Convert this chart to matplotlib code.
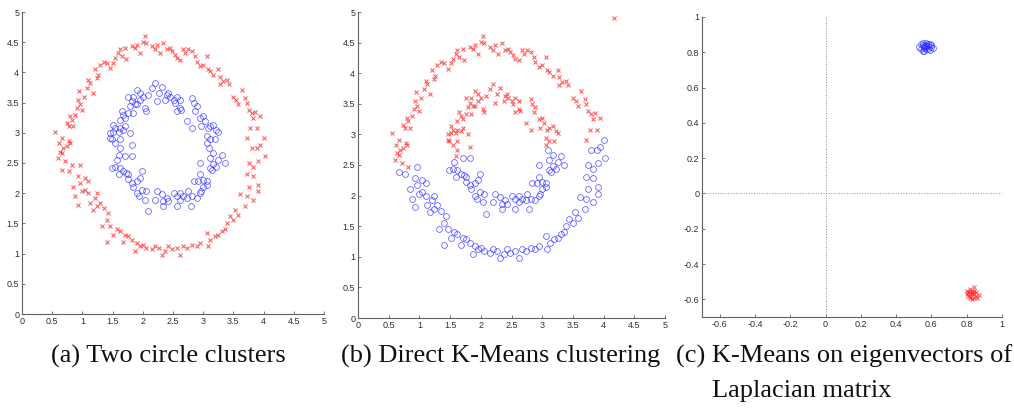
import matplotlib
matplotlib.use("Agg")
import matplotlib.pyplot as plt

# ---------------- data ----------------
# outer ring, part that stays red in (b)
outer_top_x = [0.55,0.62,0.66,0.63,0.68,0.74,0.77,0.79,0.82,0.85,0.88,0.78,0.74,0.79,
               0.91,0.93,0.96,0.99,0.95,1.02,1.08,1.13,1.17,1.10,1.21,1.26,1.24,1.29,1.35,1.40,1.46,
               1.51,1.54,1.59,1.62,1.65,1.72,1.71,1.82,1.87,1.90,1.95,2.01,2.04,2.06,2.15,
               2.20,2.23,2.28,2.34,2.40,2.45,2.48,2.53,2.56,2.62,2.67,2.70,2.75,2.81,2.86,2.89,2.95,3.00,3.06,
               3.08,3.11,3.17,3.25,3.28,3.33,3.39,3.42,3.28,3.50,3.55,3.58,3.64,3.69,3.72,3.75,3.80,3.86,3.83,3.94,
               3.78,3.89,3.72,0.82,0.71,0.60,0.66]
outer_top_y = [3.02,2.83,2.91,2.69,2.75,3.16,3.11,3.27,3.22,3.11,3.30,2.86,2.78,2.83,
               3.41,3.55,3.47,3.38,3.69,3.60,3.74,3.82,3.66,3.88,4.05,3.96,3.91,4.13,4.18,4.16,4.07,
               4.16,4.24,4.32,4.38,4.27,4.22,4.40,4.43,4.40,4.46,4.32,4.51,4.60,4.49,4.43,
               4.38,4.46,4.32,4.49,4.38,4.40,4.35,4.29,4.24,4.21,4.38,4.32,4.38,4.35,4.27,4.18,4.10,4.13,4.27,
               4.05,4.02,3.96,4.05,3.93,3.85,3.88,3.80,3.80,3.60,3.55,3.47,3.71,3.58,3.49,3.38,3.33,3.35,3.25,3.27,
               3.08,3.08,2.91,2.47,2.53,2.58,2.66]
# outer ring, part that turns blue in (b)
outer_bot_x = [3.80,3.89,4.00,3.94,4.02,3.75,3.83,3.91,3.72,3.83,3.91,3.75,3.91,3.61,3.72,3.83,3.69,
               3.53,3.58,3.50,3.44,3.39,3.36,3.31,3.25,3.20,3.12,3.06,3.08,
               2.95,2.89,2.81,2.73,2.67,2.62,2.56,2.48,2.42,2.37,2.31,2.26,2.20,2.15,2.06,2.01,1.95,1.87,1.90,
               1.82,1.76,1.71,1.62,1.57,1.68,1.51,1.40,
               1.46,1.40,1.32,1.43,1.35,1.29,1.24,1.18,1.13,1.21,1.24,1.10,1.04,0.99,0.93,0.88,0.85,0.96,1.04,1.10,0.93,
               0.77,0.96,0.66]
outer_bot_y = [2.75,2.75,2.91,2.80,2.61,2.50,2.44,2.53,2.31,2.28,2.14,2.11,2.03,1.98,1.95,1.89,1.78,
               1.73,1.64,1.56,1.62,1.51,1.40,1.37,1.31,1.29,1.23,1.34,1.12,
               1.18,1.12,1.15,1.09,1.12,0.98,1.09,1.07,1.12,1.04,0.98,1.09,1.12,1.07,1.09,1.15,1.12,1.04,1.18,
               1.23,1.29,1.31,1.37,1.40,1.20,1.31,1.20,
               1.45,1.56,1.45,1.67,1.75,1.84,1.78,1.73,1.84,1.92,2.00,2.00,2.06,2.03,1.81,1.95,2.11,2.17,2.25,2.20,2.28,
               2.36,2.47,2.39]
# inner ring, part that turns red in (b)
inner_top_x = [2.20,2.15,2.31,2.26,2.09,2.01,1.95,1.90,1.84,1.76,1.82,1.87,1.79,1.95,2.04,2.06,
               2.42,2.45,2.37,2.51,2.56,2.62,2.53,2.62,2.56,2.64,2.40,2.23,
               2.81,2.84,2.89,2.86,2.73,2.95,3.00,3.03,2.97,3.08,3.11,3.17,3.22,3.25,2.81,
               3.06,3.11,3.06,3.19,
               1.60,1.82,1.62,1.54,1.62,1.49,1.46,1.46,1.51,1.60,1.54,1.62,1.68,1.51,1.79,1.71,
               1.62,1.68,1.71,1.76,1.65,1.84,1.90]
inner_top_y = [3.82,3.74,3.76,3.66,3.63,3.60,3.66,3.71,3.60,3.60,3.52,3.47,3.44,3.55,3.41,3.36,
               3.66,3.60,3.55,3.55,3.60,3.55,3.49,3.41,3.36,3.38,3.63,3.52,
               3.58,3.49,3.44,3.36,3.19,3.25,3.27,3.19,3.11,3.08,3.11,3.13,3.05,3.02,3.08,
               2.94,2.89,2.83,2.89,
               2.64,2.80,2.75,2.83,2.89,2.89,2.91,3.00,3.02,3.02,3.08,3.08,3.05,3.13,3.00,3.11,
               3.22,3.30,3.25,3.33,3.36,3.33,3.47]
# inner ring, part that stays blue in (b)
inner_bot_x = [3.09,3.17,3.31,3.11,3.25,3.17,3.36,3.22,2.95,3.11,3.14,
               2.95,3.00,3.06,2.92,2.84,3.00,2.95,2.89,2.97,3.06,2.81,2.75,2.73,
               2.62,2.56,2.62,2.51,2.56,2.40,2.34,2.31,2.23,2.20,2.34,2.42,2.79,2.67,
               2.04,2.09,2.06,1.98,1.90,1.93,1.84,1.82,1.90,1.95,1.98,1.76,1.76,1.73,1.68,1.60,1.62,1.54,1.49,
               1.57,1.71,1.82]
inner_bot_y = [2.75,2.67,2.64,2.58,2.55,2.49,2.50,2.44,2.50,2.42,2.39,
               2.31,2.22,2.20,2.20,2.20,2.11,2.00,1.92,2.03,2.14,1.95,2.03,1.92,
               2.00,1.95,1.89,2.00,1.78,1.92,1.87,1.98,2.03,1.89,1.78,1.87,1.78,1.95,
               1.89,1.70,2.03,2.06,2.00,1.95,2.11,2.17,2.20,2.25,2.36,2.23,2.31,2.33,2.36,2.31,2.42,2.44,2.42,
               2.55,2.61,2.61]
# stray red point in (b)
stray_b_x = [4.17]
stray_b_y = [4.91]

# eigenvector embedding (c)
blue_c_x = [0.53,0.54,0.55,0.56,0.57,0.58,0.59,0.60,0.55,0.56,0.57,0.58,0.54,0.56,0.57,0.59,0.61,0.55,0.57,0.58,0.56,0.60]
blue_c_y = [0.83,0.845,0.81,0.825,0.835,0.82,0.845,0.83,0.84,0.81,0.85,0.835,0.82,0.835,0.82,0.815,0.825,0.85,0.84,0.845,0.83,0.84]
red_c_x = [0.81,0.82,0.83,0.84,0.85,0.82,0.83,0.80,0.86,0.84,0.83,0.82,0.81,0.85,0.84,0.82,0.83,0.87,0.80,0.84]
red_c_y = [-0.56,-0.54,-0.55,-0.57,-0.58,-0.59,-0.57,-0.57,-0.59,-0.55,-0.60,-0.56,-0.58,-0.56,-0.53,-0.58,-0.565,-0.575,-0.55,-0.595]

ring_ticks = [0, 0.5, 1, 1.5, 2, 2.5, 3, 3.5, 4, 4.5, 5]
ring_ticklabels = ["0", "0.5", "1", "1.5", "2", "2.5", "3", "3.5", "4", "4.5", "5"]
eig_ticks = [-0.6, -0.4, -0.2, 0, 0.2, 0.4, 0.6, 0.8, 1]
eig_ticklabels = ["-0.6", "-0.4", "-0.2", "0", "0.2", "0.4", "0.6", "0.8", "1"]

caption_a = "(a) Two circle clusters"
caption_b = "(b) Direct K-Means clustering"
caption_c1 = "(c) K-Means on eigenvectors of"
caption_c2 = "Laplacian matrix"

# ---------------- drawing ----------------
W, H = 1014, 408
fig = plt.figure(figsize=(W / 100, H / 100), dpi=100)

RED = "#ff2020"
BLUE = "#2a2aff"

def px_axes(x0, y0, x1, y1):
    return fig.add_axes([x0 / W, 1 - y1 / H, (x1 - x0) / W, (y1 - y0) / H])

def style(ax, ticks, labels):
    for s in ("top", "right"):
        ax.spines[s].set_visible(False)
    for s in ("left", "bottom"):
        ax.spines[s].set_color("#606060")
        ax.spines[s].set_linewidth(0.8)
    ax.set_xticks(ticks)
    ax.set_xticklabels(labels)
    ax.set_yticks(ticks)
    ax.set_yticklabels(labels)
    ax.tick_params(direction="in", length=2, width=0.6, colors="#606060",
                   labelsize=6.5, labelcolor="#303030", pad=2)
    for t in ax.get_xticklabels() + ax.get_yticklabels():
        t.set_fontfamily("Liberation Sans")

def red_x(ax, x, y):
    ax.plot(x, y, linestyle="none", marker="x", markersize=3.0,
            markeredgewidth=0.75, color=RED, alpha=0.75)

def blue_o(ax, x, y):
    ax.plot(x, y, linestyle="none", marker="o", markersize=4.2,
            markerfacecolor="none", markeredgewidth=0.6, markeredgecolor=BLUE, alpha=0.7)

# (a)
axa = px_axes(22, 12, 324, 314)
red_x(axa, outer_top_x + outer_bot_x, outer_top_y + outer_bot_y)
blue_o(axa, inner_top_x + inner_bot_x, inner_top_y + inner_bot_y)
axa.set_xlim(0, 5); axa.set_ylim(0, 5)
style(axa, ring_ticks, ring_ticklabels)

# (b)
axb = px_axes(358, 12, 665, 318)
red_x(axb, outer_top_x + inner_top_x + stray_b_x, outer_top_y + inner_top_y + stray_b_y)
blue_o(axb, outer_bot_x + inner_bot_x, outer_bot_y + inner_bot_y)
axb.set_xlim(0, 5); axb.set_ylim(0, 5)
style(axb, ring_ticks, ring_ticklabels)

# (c)
axc = px_axes(702, 17, 1002, 317)
axc.axvline(0, color="#909090", linestyle=":", linewidth=0.7)
axc.axhline(0, color="#909090", linestyle=":", linewidth=0.7)
blue_o(axc, blue_c_x, blue_c_y)
red_x(axc, red_c_x, red_c_y)
axc.set_xlim(-0.7, 1); axc.set_ylim(-0.7, 1)
style(axc, eig_ticks, eig_ticklabels)

# captions
cap_font = dict(family="Liberation Serif", fontsize=19, color="#111111")
fig.text(168.7 / W, 1 - 356 / H, caption_a, ha="center", va="center", **cap_font)
fig.text(501 / W, 1 - 356 / H, caption_b, ha="center", va="center", **cap_font)
fig.text(844 / W, 1 - 356 / H, caption_c1, ha="center", va="center", **cap_font)
fig.text(712 / W, 1 - 391 / H, caption_c2, ha="left", va="center", **cap_font)

fig.savefig("out.png", dpi=100)
